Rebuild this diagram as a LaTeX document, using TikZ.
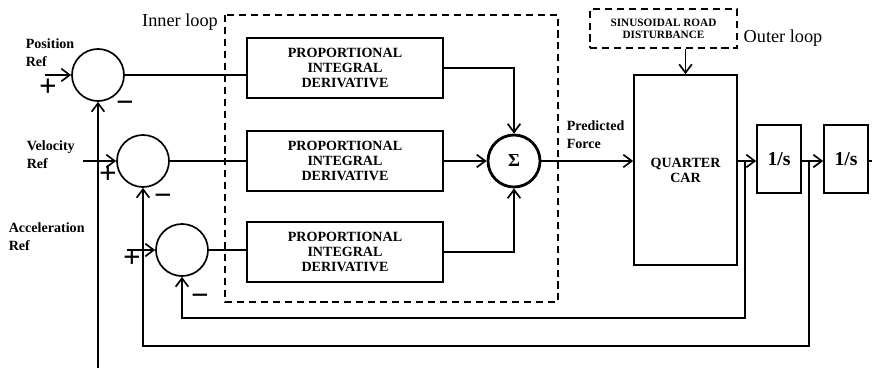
\documentclass[tikz,border=0pt]{standalone}
\usepackage{fontspec}
\setmainfont{Liberation Serif}
\usetikzlibrary{arrows.meta}
\tikzset{sumnode/.style={draw,circle,minimum size=1.3cm,inner sep=0pt},
	block/.style={draw,rectangle,align=center,inner sep=0pt,font=\bfseries\fontsize{10}{10.5}\selectfont},
	reflabel/.style={align=left,anchor=west,inner sep=0pt,font=\bfseries\fontsize{10}{13}\selectfont},
	looplabel/.style={inner sep=0pt,font=\fontsize{13}{15}\selectfont},
	sign/.style={inner sep=0pt,font=\bfseries\fontsize{22}{22}\selectfont},
	flow/.style={-{Straight Barb[length=6pt,width=9pt]}},
	loopbox/.style={dash pattern=on 5pt off 3.5pt}}
\colorlet{fg}{black}

\begin{document}
\begin{tikzpicture}[x=0.025cm,y=-0.025cm,line width=1.2pt,fg]
	\useasboundingbox (0,0) rectangle (872,368);
	\draw[loopbox] (225,15) rectangle (558,302);
	\node[looplabel] (innerlbl) at (180,22) {Inner loop};
	\node[looplabel] (outerlbl) at (783,38) {Outer loop};

	\node[sumnode] (pos) at (98,75) {};
	\node[sumnode] (vel) at (143,161) {};
	\node[sumnode] (acc) at (182,250) {};
	\node[reflabel] (posref) at (25,53) {Position\\Ref};
	\node[reflabel] (velref) at (26,155) {Velocity\\Ref};
	\node[reflabel] (accref) at (8,237) {Acceleration\\Ref};
	\coordinate (posin) at (45,75);
	\coordinate (velin) at (83,161);
	\coordinate (accin) at (127,250);
	\node[sign] (posplus) at (48,88) {+};
	\node[sign] (posminus) at (125,107) {−};
	\node[sign] (velplus) at (108,175) {+};
	\node[sign] (velminus) at (163,200) {−};
	\node[sign] (accplus) at (132,259) {+};
	\node[sign] (accminus) at (200,300) {−};

	\node[block,minimum width=4.9cm,minimum height=1.5cm] (pid1) at (345,68) {PROPORTIONAL\\INTEGRAL\\DERIVATIVE};
	\node[block,minimum width=4.9cm,minimum height=1.5cm] (pid2) at (345,161) {PROPORTIONAL\\INTEGRAL\\DERIVATIVE};
	\node[block,minimum width=4.9cm,minimum height=1.5cm] (pid3) at (345,252) {PROPORTIONAL\\INTEGRAL\\DERIVATIVE};
	\node[sumnode,line width=2pt,font=\bfseries\fontsize{13}{13}\selectfont] (sigma) at (514,161) {Σ};

	\node[block,minimum width=2.575cm,minimum height=4.75cm,font=\bfseries\fontsize{10}{10.7}\selectfont] (car) at (685.5,170) {QUARTER\\CAR};
	\node[block,loopbox,minimum width=3.675cm,minimum height=0.975cm,font=\bfseries\fontsize{8}{8.5}\selectfont] (road) at (663.5,28.5) {SINUSOIDAL ROAD\\DISTURBANCE};
	\node[block,minimum width=1.1cm,minimum height=1.7cm,font=\bfseries\fontsize{14}{16}\selectfont] (int1) at (779,159) {1/s};
	\node[block,minimum width=1.1cm,minimum height=1.7cm,font=\bfseries\fontsize{14}{16}\selectfont] (int2) at (846,159) {1/s};
	\node[reflabel] (force) at (566,135) {Predicted\\Force};

	\coordinate (out) at (872,161);
	\coordinate (accj) at (745,161);
	\coordinate (velj) at (809,161);
	\coordinate (accbot) at (745,318);
	\coordinate (velbot) at (809,346);
	\coordinate (posbot) at (98,368);

	\draw[flow] (posin) -- (pos);
	\draw[flow] (velin) -- (vel);
	\draw[flow] (accin) -- (acc);
	\draw (pos.east) -- (pos.east -| pid1.west);
	\draw (vel.east) -- (vel.east -| pid2.west);
	\draw (acc.east) -- (acc.east -| pid3.west);
	\draw[flow] (pid1.east) -| (sigma.north);
	\draw[flow] (pid2.east) -- (sigma.west);
	\draw[flow] (pid3.east) -| (sigma.south);
	\draw[flow] (sigma.east) -- (sigma.east -| car.west);
	\draw[flow] (road.south -| car.north) -- (car.north);
	\draw[flow] (sigma.east -| car.east) -- (int1.west |- sigma.east);
	\draw[flow] (int1.east |- sigma.east) -- (int2.west |- sigma.east);
	\draw (int2.east |- out) -- (out);
	\draw[flow] (accj) -- (accbot) -| (acc.south);
	\draw[flow] (velj) -- (velbot) -| (vel.south);
	\draw[flow] (posbot) -- (pos.south);
\end{tikzpicture}
\end{document}
